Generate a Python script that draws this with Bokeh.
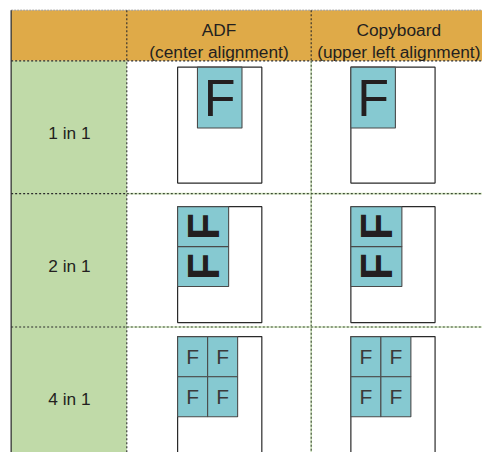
import math
from bokeh.plotting import figure
from bokeh.models import Range1d
from bokeh.core.properties import value
from bokeh.embed import file_html
from bokeh.resources import INLINE

# ---- content ----
row_labels = ["1 in 1", "2 in 1", "4 in 1"]
col_titles = ["ADF", "Copyboard"]
col_subtitles = ["(center alignment)", "(upper left alignment)"]
adf_align = ["center", "left", "left"]      # how the reduced image sits on ADF page
grid_cols = [1, 1, 2]                         # images per row of sheet
grid_rows = [1, 2, 2]
mark_letter = "F"

# ---- geometry (in reference pixel units; whole 498x468 frame mapped into the figure) ----
FONT = "Liberation Sans"
TXT = "#231F20"
X_LEFT, X_LBL, X_ADF, X_CPY = 11, 130.5, 321, 512
Y_TOP, Y_HEAD = 10, 62.5
ROW_BOTTOMS = [200, 338, 476]
PAGE_W, PAGE_H = 87, 120
PAGE_LEFT = [183, 362]
PAGE_TOP = [69, 213.5, 348]
BLUE_W = [46, 52.7, 62]
BLUE_H = [63, 82.7, 83]
F_SIZE = ["52px", "44px", "21px"]
F_STYLE = ["normal", "bold", "normal"]
F_ANGLE = [0, math.pi / 2, 0]
F_COLOR = ["#231F20", "#231F20", "#3a3a3a"]
LABEL_SIZE = "17.3px"

ORANGE = "#DFAA48"
GREEN = "#C0DAA8"
BLUE = "#86C9D1"

p = figure(width=482, height=452, x_range=Range1d(0, 498), y_range=Range1d(468, 0),
           output_backend="svg", toolbar_location=None, min_border=0)
p.axis.visible = False
p.grid.visible = False
p.outline_line_color = None
p.background_fill_color = "white"
p.border_fill_color = "white"

# backgrounds
p.quad(left=[X_LEFT], right=[X_CPY], top=[Y_TOP], bottom=[Y_HEAD], fill_color=ORANGE, line_color=None)
p.quad(left=[X_LEFT], right=[X_LBL], top=[Y_HEAD], bottom=[ROW_BOTTOMS[-1]], fill_color=GREEN, line_color=None)

# grid lines
DARK = "#2b2b2b"
DOT = "2 2"
# top border
p.line([X_LEFT, X_CPY], [Y_TOP, Y_TOP], line_color="#9a9a9a", line_width=1, line_dash="2 1")
# left border
p.line([X_LEFT, X_LEFT], [Y_TOP, ROW_BOTTOMS[-1]], line_color="#333333", line_width=1.3)
# header bottom
p.line([X_LEFT, X_CPY], [Y_HEAD, Y_HEAD], line_color=DARK, line_width=1.1, line_dash=DOT)
# label column divider
p.line([X_LBL, X_LBL], [Y_TOP, ROW_BOTTOMS[-1]], line_color=DARK, line_width=1.1, line_dash=DOT)
# ADF/Copyboard divider: header part
p.line([X_ADF, X_ADF], [Y_TOP, Y_HEAD], line_color=DARK, line_width=1.1, line_dash=DOT)
# body part: light green underlay + dark dashes
p.line([X_ADF, X_ADF], [Y_HEAD, ROW_BOTTOMS[-1]], line_color="#cfe4bd", line_width=1.6)
p.line([X_ADF, X_ADF], [Y_HEAD, ROW_BOTTOMS[-1]], line_color="#3d4a35", line_width=1.1, line_dash=DOT)
for yb in ROW_BOTTOMS[:-1]:
    p.line([X_LEFT, X_LBL], [yb, yb], line_color=DARK, line_width=1.1, line_dash=DOT)
    p.line([X_LBL, X_CPY], [yb, yb], line_color="#cfe4bd", line_width=1.6)
    p.line([X_LBL, X_CPY], [yb, yb], line_color="#3d4a35", line_width=1.1, line_dash=DOT)

# header texts
col_centers = [(X_LBL + X_ADF) / 2, 411.5]
p.text(x=col_centers, y=[30.7, 30.7], text=col_titles, text_align="center", text_baseline="alphabetic",
       text_font=value(FONT), text_font_size=LABEL_SIZE, text_color=TXT)
p.text(x=col_centers, y=[53.3, 53.3], text=col_subtitles, text_align="center", text_baseline="alphabetic",
       text_font=value(FONT), text_font_size=LABEL_SIZE, text_color=TXT)

# row labels
row_tops = [Y_HEAD] + ROW_BOTTOMS[:-1]
row_centers = [(t + b) / 2 for t, b in zip(row_tops, ROW_BOTTOMS)]
p.text(x=[(X_LEFT + X_LBL) / 2 + 0.5] * 3, y=[c + 5.6 for c in row_centers], text=row_labels,
       text_align="center", text_baseline="alphabetic",
       text_font=value(FONT), text_font_size=LABEL_SIZE, text_color=TXT)

# pages and reduced images
for r in range(3):
    for c in range(2):
        pl = PAGE_LEFT[c]
        pt = PAGE_TOP[r]
        p.quad(left=[pl], right=[pl + PAGE_W], top=[pt], bottom=[pt + PAGE_H],
               fill_color="white", line_color="#2a2a2a", line_width=1.2)
        bw, bh = BLUE_W[r], BLUE_H[r]
        if c == 0 and adf_align[r] == "center":
            bl = pl + (PAGE_W - bw) / 2
        else:
            bl = pl
        cw, ch = bw / grid_cols[r], bh / grid_rows[r]
        lefts, rights, tops, bottoms, cx, cy = [], [], [], [], [], []
        for i in range(grid_rows[r]):
            for j in range(grid_cols[r]):
                lefts.append(bl + j * cw)
                rights.append(bl + (j + 1) * cw)
                tops.append(pt + i * ch)
                bottoms.append(pt + (i + 1) * ch)
                cx.append(bl + (j + 0.5) * cw)
                cy.append(pt + (i + 0.5) * ch)
        p.quad(left=lefts, right=rights, top=tops, bottom=bottoms,
               fill_color=BLUE, line_color="#4a4a4a", line_width=1.1)
        p.text(x=cx, y=cy, text=[mark_letter] * len(cx), angle=F_ANGLE[r],
               text_align="center", text_baseline="middle",
               text_font=value(FONT), text_font_size=F_SIZE[r], text_font_style=F_STYLE[r],
               text_color=F_COLOR[r])

open("out.html", "w").write(file_html(p, INLINE))
